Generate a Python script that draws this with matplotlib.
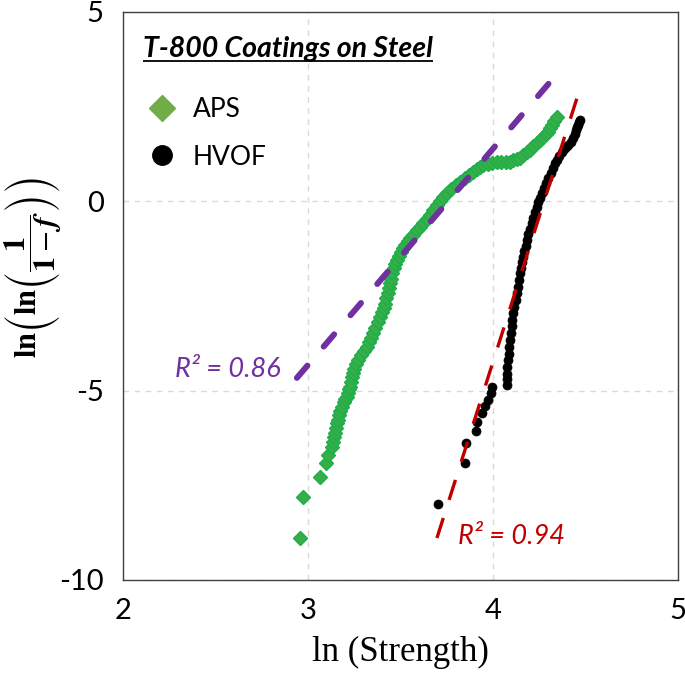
import matplotlib
matplotlib.use('Agg')
import matplotlib.pyplot as plt
from matplotlib.lines import Line2D

# ---------------- data ----------------
aps_x = [2.957, 2.971, 3.065, 3.097, 3.108, 3.128, 3.135, 3.140, 3.146, 3.152, 3.158, 3.162,
         3.168, 3.175, 3.182, 3.192, 3.200, 3.209, 3.216, 3.222, 3.227, 3.232, 3.238, 3.243,
         3.250, 3.258, 3.270, 3.285, 3.300, 3.317, 3.328, 3.340, 3.351, 3.364, 3.376, 3.389,
         3.400, 3.410, 3.418, 3.424, 3.430, 3.436, 3.442, 3.448, 3.455, 3.463, 3.471, 3.480,
         3.492, 3.503, 3.515, 3.527, 3.540, 3.551, 3.569, 3.587, 3.605, 3.623, 3.641, 3.659,
         3.677, 3.696, 3.714, 3.732, 3.750, 3.774, 3.798, 3.822, 3.846, 3.870, 3.894, 3.912,
         3.930, 3.948, 3.972, 3.996, 4.020, 4.044, 4.068, 4.092, 4.110, 4.128, 4.146, 4.164,
         4.182, 4.200, 4.218, 4.236, 4.254, 4.270, 4.285, 4.299, 4.308, 4.317, 4.330, 4.344]
aps_y = [-8.89, -7.80, -7.27, -6.91, -6.70, -6.48, -6.35, -6.22, -6.12, -5.98, -5.86, -5.77,
         -5.65, -5.53, -5.42, -5.30, -5.22, -5.16, -5.05, -4.96, -4.89, -4.77, -4.65, -4.53,
         -4.42, -4.30, -4.19, -4.07, -3.95, -3.84, -3.72, -3.60, -3.48, -3.34, -3.19, -3.05,
         -2.92, -2.82, -2.70, -2.55, -2.42, -2.30, -2.16, -2.04, -1.90, -1.77, -1.65, -1.54,
         -1.44, -1.34, -1.24, -1.15, -1.06, -0.98, -0.88, -0.77, -0.67, -0.56, -0.46, -0.36,
         -0.23, -0.10, 0.01, 0.11, 0.21, 0.32, 0.42, 0.52, 0.61, 0.70, 0.78, 0.85,
         0.91, 0.96, 0.99, 1.02, 1.03, 1.03, 1.03, 1.05, 1.08, 1.11, 1.15, 1.22,
         1.29, 1.36, 1.45, 1.53, 1.62, 1.70, 1.77, 1.84, 1.93, 2.02, 2.12, 2.24]

hvof_x = [3.704, 3.849, 3.854, 3.908, 3.915, 3.939, 3.957, 3.975, 3.988, 3.996,
          4.074, 4.075, 4.076, 4.077, 4.080, 4.084, 4.088, 4.092, 4.096, 4.101, 4.105, 4.110,
          4.116, 4.122, 4.128, 4.134, 4.140, 4.146, 4.152, 4.158, 4.164, 4.170, 4.176, 4.182,
          4.191, 4.200, 4.209, 4.218, 4.227, 4.236, 4.245, 4.254, 4.263, 4.275, 4.287, 4.299,
          4.311, 4.323, 4.335, 4.347, 4.359, 4.371, 4.383, 4.395, 4.407, 4.420, 4.434, 4.442,
          4.449, 4.455, 4.461, 4.466, 4.470]
hvof_y = [-7.99, -6.90, -6.37, -6.06, -5.82, -5.60, -5.40, -5.25, -5.07, -4.91,
          -4.85, -4.70, -4.55, -4.37, -4.20, -4.02, -3.84, -3.66, -3.48, -3.30, -3.13, -2.96,
          -2.78, -2.60, -2.43, -2.25, -2.08, -1.90, -1.75, -1.60, -1.46, -1.31, -1.17, -1.02,
          -0.87, -0.73, -0.58, -0.43, -0.29, -0.14, -0.02, 0.10, 0.21, 0.35, 0.48, 0.61,
          0.74, 0.87, 1.00, 1.10, 1.21, 1.31, 1.37, 1.43, 1.49, 1.57, 1.66, 1.77,
          1.88, 1.95, 2.02, 2.09, 2.15]

# linear fits (slope, intercept) and x extent
aps_fit = (5.71, -21.45)
aps_fit_x = [2.94, 4.335]
hvof_fit = (15.35, -65.64)
hvof_fit_x = [3.697, 4.476]

series_labels = ["APS", "HVOF"]
r2_labels = ["R\u00b2 = 0.86", "R\u00b2 = 0.94"]
title_text = "T-800 Coatings on Steel"
x_ticks = [2, 3, 4, 5]
y_ticks = [-10, -5, 0, 5]

# ---------------- styling ----------------
GREEN_FACE = '#70AD47'
GREEN_DATA = '#38AE49'
GREEN_EDGE = '#1EAF4B'
PURPLE = '#7030A0'
RED = '#C00000'
SANS = ['Lato', 'DejaVu Sans']

plt.rcParams['mathtext.fontset'] = 'stix'
plt.rcParams['axes.unicode_minus'] = False

fig = plt.figure(figsize=(6.85, 6.75), dpi=100)
ax = fig.add_axes([123 / 685, 1 - 580 / 675, 555 / 685, 568 / 675])

ax.set_xlim(2, 5)
ax.set_ylim(-10, 5)
ax.set_xticks(x_ticks)
ax.set_yticks(y_ticks)
ax.tick_params(length=0, labelsize=21)
ax.tick_params(axis='x', pad=13)
ax.tick_params(axis='y', pad=14)
for lab in ax.get_xticklabels() + ax.get_yticklabels():
    lab.set_family(SANS)
for s in ax.spines.values():
    s.set_color('#404040')
    s.set_linewidth(1.0)
ax.grid(True, color='#D9D9D9', lw=1.0, ls=(0, (4, 4)))
ax.set_axisbelow(True)

# data
ax.plot(aps_x, aps_y, ls='none', marker='D', ms=7, mfc=GREEN_DATA, mec=GREEN_EDGE,
        mew=1.0, zorder=2)
ax.plot(hvof_x, hvof_y, ls='none', marker='o', ms=6.5, mfc='black', mec='black',
        mew=0.5, zorder=2)

# fit lines
ax.plot(aps_fit_x, [aps_fit[0] * x + aps_fit[1] for x in aps_fit_x], color=PURPLE,
        lw=4.3, dashes=(2.7, 4.2), dash_capstyle='round', zorder=3)
ax.plot(hvof_fit_x, [hvof_fit[0] * x + hvof_fit[1] for x in hvof_fit_x], color=RED,
        lw=2.4, dashes=(6.3, 5.7), dash_capstyle='butt', zorder=3)

# R^2 labels
ax.text(2.281, -4.45, r2_labels[0], color=PURPLE, fontsize=19.5, style='italic',
        family=SANS, va='center', ha='left')
ax.text(3.811, -8.86, r2_labels[1], color=RED, fontsize=19.5, style='italic',
        family=SANS, va='center', ha='left')

# title inside plot, underlined
t = ax.text(0.036, 0.921, title_text, transform=ax.transAxes, fontsize=20.5,
            fontweight='bold', style='italic', family=SANS, ha='left', va='baseline')

# legend
handles = [Line2D([], [], ls='none', marker='D', ms=13, mfc=GREEN_FACE, mec=GREEN_FACE),
           Line2D([], [], ls='none', marker='o', ms=14, mfc='black', mec='black')]
leg = ax.legend(handles, series_labels, loc='upper left', bbox_to_anchor=(0.047, 0.850),
                frameon=False, borderpad=0, borderaxespad=0, handlelength=1.0,
                handletextpad=0.65, labelspacing=0.85, prop={'family': SANS, 'size': 19})

# axis labels
ax.set_xlabel('ln (Strength)', family='Liberation Serif', fontsize=25)
ax.xaxis.set_label_coords(0.5, -0.098)
ax.set_ylabel(r'$\mathbf{ln}\left(\mathbf{ln}\left(\dfrac{\mathbf{1}}{\mathbf{1}-\boldsymbol{f}}\right)\right)$',
              fontsize=22)
ax.yaxis.set_label_coords(-0.106, 0.55)

# underline under title
fig.canvas.draw()
r = fig.canvas.get_renderer()
bb = t.get_window_extent(renderer=r).transformed(ax.transAxes.inverted())
ax.add_line(Line2D([bb.x0, bb.x1], [0.913, 0.913], transform=ax.transAxes,
                   color='black', lw=1.3, solid_capstyle='butt'))

fig.savefig('out.png', dpi=100)
